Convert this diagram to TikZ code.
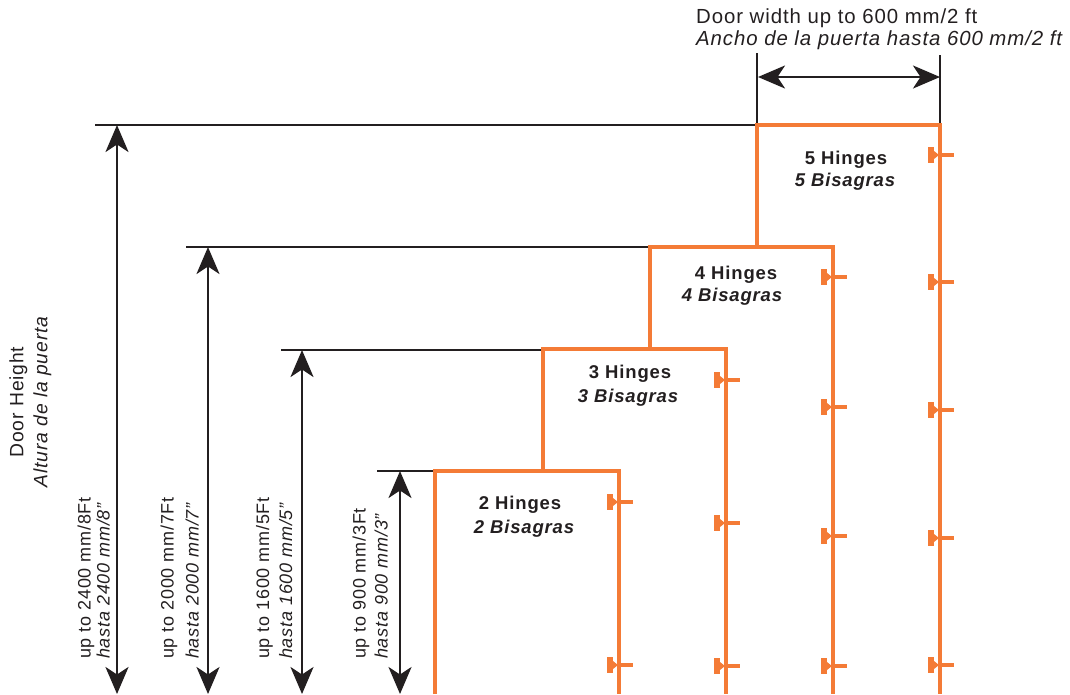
\documentclass[tikz,border=0pt]{standalone}
\usepackage{fontspec}
\setmainfont[LetterSpace=4.5]{Liberation Sans}
\usetikzlibrary{arrows.meta}
\definecolor{doororange}{HTML}{F47B36}
\definecolor{dimblack}{HTML}{231F20}

\begin{document}
\begin{tikzpicture}
    [ x = 1pt, y = -1pt
    , >={Stealth[length=27pt,width=23pt,inset=7.5pt]}
    , door/.style =
      { draw=doororange, line width=4pt }
    , rule/.style =
      { draw=dimblack, line width=2.5pt }
    , dim/.style =
      { rule, <-> }
    , hingetag/.style =
      { text=dimblack, font=\fontsize{18.5}{22}\selectfont\bfseries, inner sep=0pt }
    , spanish/.style =
      { font=\fontsize{18.5}{22}\selectfont\bfseries\itshape }
    , heighttag/.style =
      { text=dimblack, font=\fontsize{18}{19}\selectfont, align=left, rotate=90, anchor=south west, inner sep=0pt }
    , sizetag/.style =
      { text=dimblack, font=\fontsize{20.4}{22}\selectfont, align=left, inner sep=0pt }
    , hinge/.pic =
      { \fill [doororange] (-12,-8) rectangle (-6,8);
        \fill [doororange] (-6,-4) -- (-1,0) -- (-6,4) -- cycle;
        \fill [doororange] (-2,-2) rectangle (14,2);
      }
    ]
    \useasboundingbox (0,0) rectangle (1070,694);

    \coordinate (d5bl) at (757,247);
    \coordinate (d5tl) at (757,125);
    \coordinate (d5tr) at (940,125);
    \coordinate (d5br) at (940,694);
    \coordinate (d4bl) at (649.5,349);
    \coordinate (d4tl) at (649.5,247);
    \coordinate (d4tr) at (833,247);
    \coordinate (d4br) at (833,694);
    \coordinate (d3bl) at (542.5,471);
    \coordinate (d3tl) at (542.5,349);
    \coordinate (d3tr) at (726,349);
    \coordinate (d3br) at (726,694);
    \coordinate (d2bl) at (435,694);
    \coordinate (d2tl) at (435,471);
    \coordinate (d2tr) at (619,471);
    \coordinate (d2br) at (619,694);

    \coordinate (r5) at (95,125);
    \coordinate (r4) at (186,247);
    \coordinate (r3) at (281,350);
    \coordinate (r2) at (377,471);
    \coordinate (a5t) at (117,125);
    \coordinate (a5b) at (117,694);
    \coordinate (a4t) at (208,247);
    \coordinate (a4b) at (208,694);
    \coordinate (a3t) at (302,350);
    \coordinate (a3b) at (302,694);
    \coordinate (a2t) at (400,471);
    \coordinate (a2b) at (400,694);
    \coordinate (wl) at (757,53);
    \coordinate (wr) at (940,55);
    \coordinate (wal) at (758,77);
    \coordinate (war) at (940,77);

    \draw [rule] (r5) -- (d5tl);
    \draw [rule] (r4) -- (d4tl);
    \draw [rule] (r3) -- (d3tl |- r3);
    \draw [rule] (r2) -- (d2tl);
    \draw [rule] (wl) -- (d5tl);
    \draw [rule] (wr) -- (d5tr);

    \draw [dim] (a5t) -- (a5b);
    \draw [dim] (a4t) -- (a4b);
    \draw [dim] (a3t) -- (a3b);
    \draw [dim] (a2t) -- (a2b);
    \draw [dim] (wal) -- (war);

    \draw [door] (d5bl) -- (d5tl) -- (d5tr) -- (d5br);
    \draw [door] (d4bl) -- (d4tl) -- (d4tr) -- (d4br);
    \draw [door] (d3bl) -- (d3tl) -- (d3tr) -- (d3br);
    \draw [door] (d2bl) -- (d2tl) -- (d2tr) -- (d2br);

    \foreach \y in {155,282,410,538,665}
      \pic at (940,\y) {hinge};
    \foreach \y in {277,407,536,666}
      \pic at (833,\y) {hinge};
    \foreach \y in {380,523,666}
      \pic at (726,\y) {hinge};
    \foreach \y in {502,665}
      \pic at (619,\y) {hinge};

    \node [hingetag] (t5) at (846,160) {5 Hinges};
    \node [hingetag,spanish] (t5s) at (845,182) {5 Bisagras};
    \node [hingetag] (t4) at (736,275) {4 Hinges};
    \node [hingetag,spanish] (t4s) at (732,297) {4 Bisagras};
    \node [hingetag] (t3) at (630,374) {3 Hinges};
    \node [hingetag,spanish] (t3s) at (628,398) {3 Bisagras};
    \node [hingetag] (t2) at (520,505) {2 Hinges};
    \node [hingetag,spanish] (t2s) at (524,529) {2 Bisagras};

    \node [sizetag, anchor=north west] (width) at (696,9)
      {Door width up to 600 mm/2 ft\\\itshape Ancho de la puerta hasta 600 mm/2 ft};
    \node [sizetag, rotate=90, font=\fontsize{19.3}{22}\selectfont] (height) at (31,402)
      {\begin{tabular}{@{}c@{}}Door Height\\[2pt]\itshape Altura de la puerta\end{tabular}};

    \node [heighttag] (h5) at (110,659) {up to 2400 mm/8Ft\\\itshape hasta 2400 mm/8”};
    \node [heighttag] (h4) at (199,659) {up to 2000 mm/7Ft\\[6pt]\itshape hasta 2000 mm/7”};
    \node [heighttag] (h3) at (292.5,659) {up to 1600 mm/5Ft\\[4pt]\itshape hasta 1600 mm/5”};
    \node [heighttag] (h2) at (388,659) {up to 900 mm/3Ft\\[3pt]\itshape hasta 900 mm/3”};
  \end{tikzpicture}
\end{document}
